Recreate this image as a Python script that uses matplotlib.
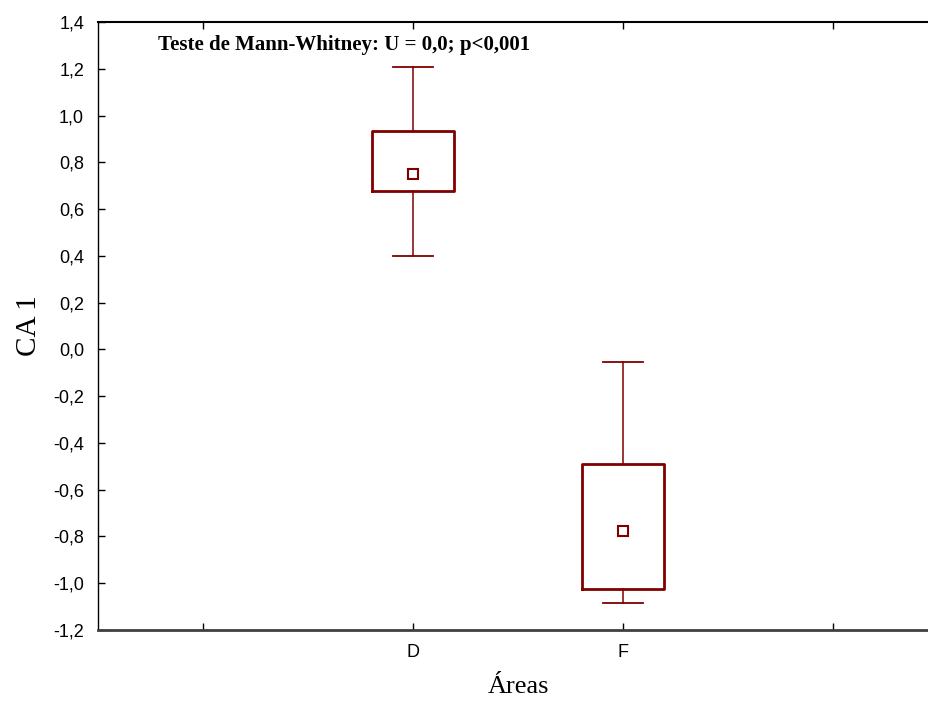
import matplotlib
matplotlib.use("Agg")
import matplotlib.pyplot as plt

# Median / quartile / range summary for each area
AREAS = ["D", "F"]
POSITIONS = [1, 2]
MEDIANS = [0.75, -0.776]
Q1 = [0.678, -1.024]
Q3 = [0.934, -0.492]
WHISLO = [0.40, -1.085]
WHISHI = [1.207, -0.054]

X_TICKS = [0, 1, 2, 3]
X_TICK_LABELS = ["", "D", "F", ""]
Y_TICKS = [-1.2, -1.0, -0.8, -0.6, -0.4, -0.2, 0.0, 0.2, 0.4, 0.6, 0.8, 1.0, 1.2, 1.4]

DARK_RED = "#800000"
SERIF = ["Liberation Serif", "DejaVu Serif"]
SANS = ["Liberation Sans", "DejaVu Sans"]

fig = plt.figure(figsize=(9.29, 7.06), dpi=100)
ax = fig.add_axes([98 / 929, 76 / 706, 840 / 929, 608 / 706])

stats = [
    {"med": m, "q1": a, "q3": b, "whislo": lo, "whishi": hi, "fliers": [], "label": name}
    for name, m, a, b, lo, hi in zip(AREAS, MEDIANS, Q1, Q3, WHISLO, WHISHI)
]
ax.bxp(
    stats, positions=POSITIONS, widths=0.395, showfliers=False,
    boxprops=dict(color=DARK_RED, linewidth=2.0),
    whiskerprops=dict(color=DARK_RED, linewidth=1.1),
    capprops=dict(color=DARK_RED, linewidth=1.3),
    medianprops=dict(linewidth=0),
    capwidths=0.195,
)
ax.plot(POSITIONS, MEDIANS, linestyle="none", marker="s", markersize=7,
        markerfacecolor="white", markeredgecolor=DARK_RED, markeredgewidth=1.5)

ax.set_xlim(-0.5, 3.5)
ax.set_ylim(-1.2, 1.4)
ax.set_xticks(X_TICKS)
ax.set_xticklabels(X_TICK_LABELS, fontfamily=SANS, fontsize=13)
ax.set_yticks(Y_TICKS)
ax.set_yticklabels([f"{v:.1f}".replace(".", ",") for v in Y_TICKS],
                   fontfamily=SANS, fontsize=13)
ax.tick_params(axis="x", direction="in", top=True, length=5, width=1, pad=10)
ax.tick_params(axis="y", direction="in", right=False, length=5, width=1, pad=10)

ax.spines["left"].set_linewidth(1.0)
ax.spines["top"].set_linewidth(1.5)
ax.spines["bottom"].set_linewidth(2.0)
ax.spines["bottom"].set_color("#404040")

ax.set_xlabel("Áreas", fontfamily=SERIF, fontsize=19, labelpad=11)
ax.set_ylabel("CA 1", fontfamily=SERIF, fontsize=21, labelpad=8)

ax.text(0.071, 0.954, "Teste de Mann-Whitney: U = 0,0; p<0,001",
        transform=ax.transAxes, fontfamily=SERIF, fontsize=15,
        fontweight="bold", va="baseline", ha="left")

fig.savefig("out.png", dpi=100)
